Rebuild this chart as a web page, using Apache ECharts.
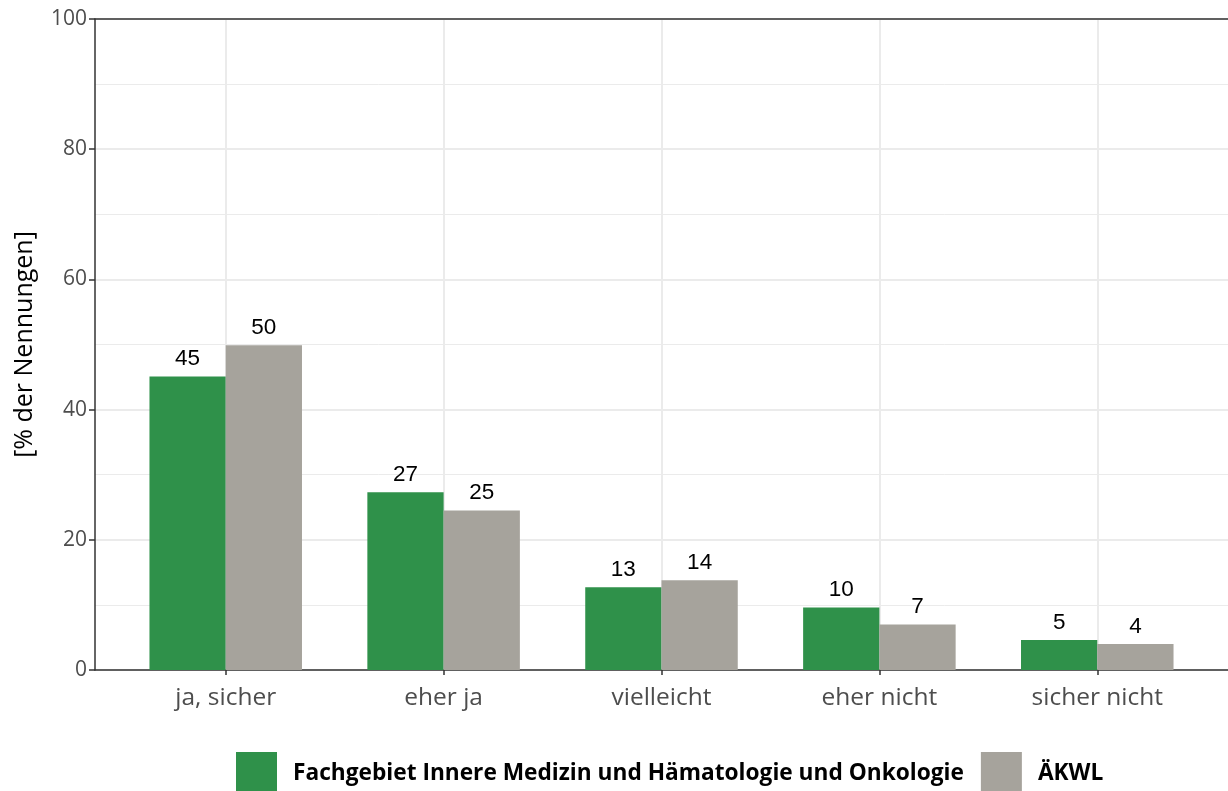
<!DOCTYPE html>
<html><head><meta charset="utf-8">
<script src="https://cdn.jsdelivr.net/npm/echarts@6/dist/echarts.min.js"></script>
<style>html,body{margin:0;padding:0;background:#fff}#c{width:1228px;height:791px}</style>
</head><body><div id="c"></div>
<script>
const categories = ['ja, sicher', 'eher ja', 'vielleicht', 'eher nicht', 'sicher nicht'];
const seriesNames = ['Fachgebiet Innere Medizin und Hämatologie und Onkologie', 'ÄKWL'];
const fachgebiet = [45.1, 27.3, 12.7, 9.6, 4.6];
const aekwl = [49.9, 24.5, 13.8, 7.0, 4.0];
const yTicks = [0, 20, 40, 60, 80, 100];
const colors = ['#2F914A', '#A6A39C'];

const chart = echarts.init(document.getElementById('c'));
const axisFont = 'Open Sans';
const plotLeft = 95, plotRight = 0, plotTop = 19, plotBottom = 121;
const plotW = 1228 - plotLeft - plotRight;
const unit = plotW / (categories.length - 1 + 1.2);
const catLeft = plotLeft + 0.1 * unit;
const catW = unit * categories.length;

chart.setOption({
  animation: false,
  grid: [
    {left: plotLeft, right: plotRight, top: plotTop, bottom: plotBottom},
    {left: catLeft, width: catW, top: plotTop, bottom: plotBottom}
  ],
  legend: {
    left: 236, top: 752, padding: 0,
    itemWidth: 41, itemHeight: 44, itemGap: 17,
    icon: 'rect',
    data: seriesNames,
    textStyle: {fontFamily: axisFont, fontWeight: 'bold', fontSize: 22.7, color: '#000', padding: [0, 0, 0, 11]}
  },
  xAxis: [
    {gridIndex: 0, type: 'value', min: 0, max: 1, position: 'bottom',
      axisLine: {show: true, lineStyle: {color: '#333', width: 1.5}},
      axisTick: {show: false}, axisLabel: {show: false}, splitLine: {show: false}},
    {gridIndex: 0, type: 'value', min: 0, max: 1, position: 'top',
      axisLine: {show: true, lineStyle: {color: '#333', width: 1.5}},
      axisTick: {show: false}, axisLabel: {show: false}, splitLine: {show: false}},
    {gridIndex: 1, type: 'category', data: categories, boundaryGap: true,
      axisLine: {show: false},
      axisTick: {show: true, alignWithLabel: true, length: 5, lineStyle: {color: '#333', width: 1.5}},
      axisLabel: {fontFamily: axisFont, fontSize: 24.5, color: '#4d4d4d', margin: 16},
      splitLine: {show: true, alignWithLabel: true, lineStyle: {color: '#ebebeb', width: 2}}}
  ],
  yAxis: [
    {gridIndex: 0, type: 'value', min: 0, max: 100, interval: 20,
      name: '[% der Nennungen]', nameLocation: 'middle', nameGap: 58, nameRotate: 90,
      nameTextStyle: {fontFamily: axisFont, fontSize: 25, color: '#000'},
      axisLine: {show: true, lineStyle: {color: '#333', width: 1.5}},
      axisTick: {show: true, length: 6, lineStyle: {color: '#333', width: 1.5}},
      axisLabel: {fontFamily: axisFont, fontSize: 21, color: '#4d4d4d', margin: 8,
        formatter: v => yTicks.includes(v) ? String(v) : ''},
      splitLine: {show: true, lineStyle: {color: '#ebebeb', width: 2}},
      minorTick: {show: false, splitNumber: 2},
      minorSplitLine: {show: true, lineStyle: {color: '#ebebeb', width: 1}}},
    {gridIndex: 1, type: 'value', min: 0, max: 100, interval: 20, show: false}
  ],
  series: [fachgebiet, aekwl].map((d, i) => ({
    name: seriesNames[i], type: 'bar', xAxisIndex: 2, yAxisIndex: 1,
    data: d, barWidth: 0.35 * unit, barGap: '0%',
    itemStyle: {color: colors[i]},
    label: {show: true, position: 'top', distance: 6, fontFamily: 'Liberation Sans', fontSize: 22.5, color: '#000',
      formatter: p => String(Math.round(p.value))}
  }))
});
</script></body></html>
